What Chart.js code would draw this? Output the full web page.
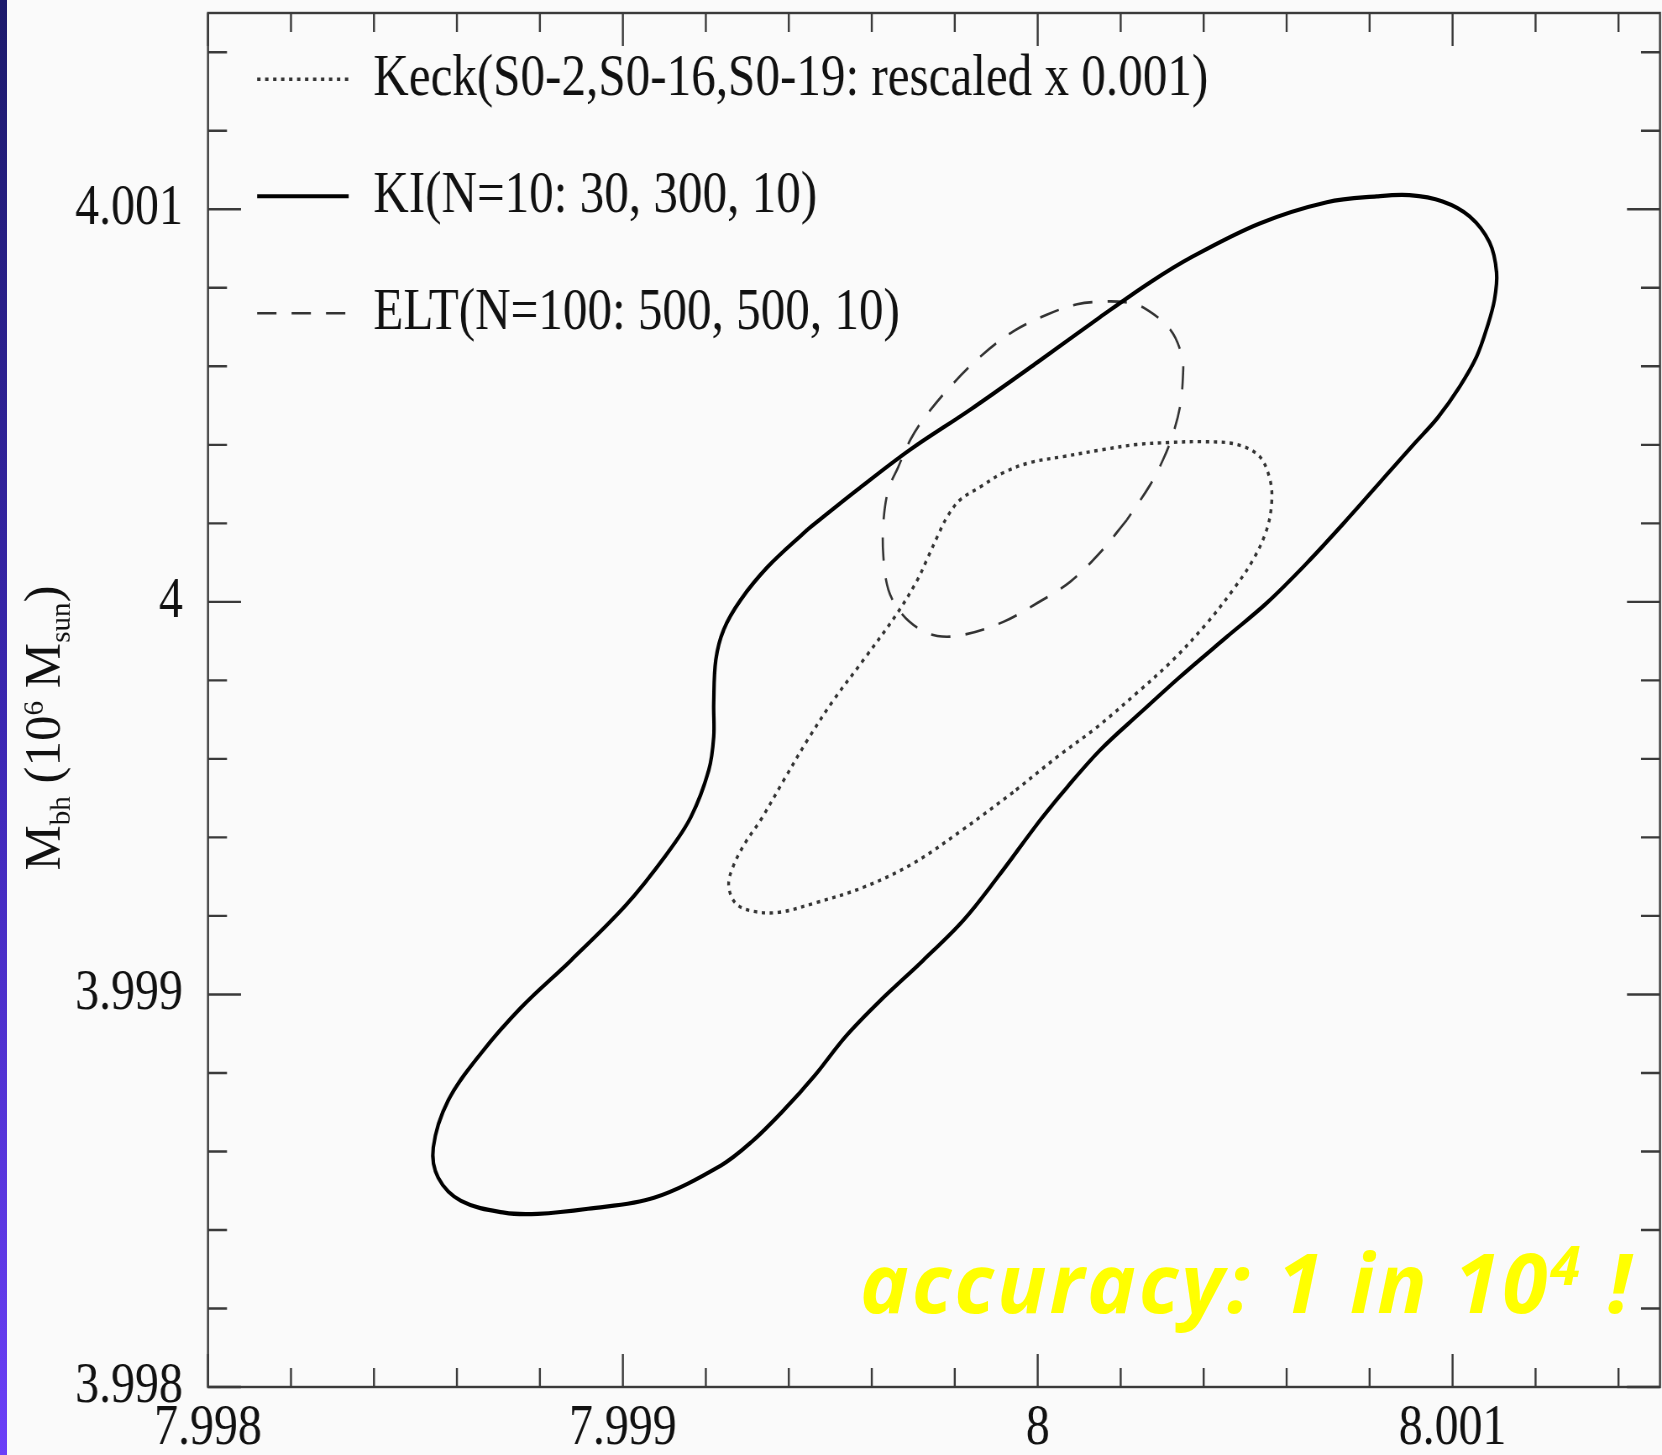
<!DOCTYPE html>
<html>
<head>
<meta charset="utf-8">
<title>Mbh confidence contours</title>
<script src="https://cdn.jsdelivr.net/npm/chart.js@4.4.1/dist/chart.umd.min.js"></script>
<style>
  html, body { margin: 0; padding: 0; overflow: hidden; background: #fafafa; }
  body { width: 1662px; height: 1455px; position: relative; }
  /* the original figure is squeezed horizontally, so the chart is drawn wider and squeezed back */
  #wrap { position: absolute; left: 0; top: 0; width: 1979px; height: 1455px; transform: scaleX(0.83982); transform-origin: 0 0; }
  #strip { position: absolute; left: 0; top: 0; width: 7px; height: 1455px; background: linear-gradient(to bottom, #1c1a6b, #3b26b2 50%, #6b3ff8); }
  #note { position: absolute; left: 860px; top: 1240px; font: italic 700 82px "Open Sans"; line-height: 82px; letter-spacing: 3px; color: #ffff00; white-space: nowrap; }
  #note sup { font-size: 54px; vertical-align: baseline; position: relative; top: -28px; }
</style>
</head>
<body>
<div id="wrap"><canvas id="contours"></canvas></div>
<div id="strip"></div>
<div id="note">accuracy: 1 in 10<sup>4</sup> !</div>

<script>
const SQUISH = 1662 / 1979;

// --- axis ticks ---
const xTicks = [7.998, 7.9982, 7.9984, 7.9986, 7.9988, 7.999, 7.9992, 7.9994, 7.9996, 7.9998,
                8, 8.0002, 8.0004, 8.0006, 8.0008, 8.001, 8.0012, 8.0014];
const yTicks = [3.998, 3.9982, 3.9984, 3.9986, 3.9988, 3.999, 3.9992, 3.9994, 3.9996, 3.9998,
                4, 4.0002, 4.0004, 4.0006, 4.0008, 4.001, 4.0012, 4.0014];
const xMajor = [7.998, 7.999, 8, 8.001];
const xLabels = ['7.998', '7.999', '8', '8.001'];
const yMajor = [3.998, 3.999, 4, 4.001];
const yLabels = ['3.998', '3.999', '4', '4.001'];

const seriesNames = ['Keck(S0-2,S0-16,S0-19: rescaled x 0.001)', 'KI(N=10: 30, 300, 10)', 'ELT(N=100: 500, 500, 10)'];

// --- Keck contour (dotted) ---
const keckX = [7.999941, 7.999821, 7.999700, 7.999580, 7.999460, 7.999375, 7.999313, 7.999272, 7.999255, 7.999267,
               7.999296, 7.999332, 7.999388, 7.999445, 7.999508, 7.999580, 7.999662, 7.999710, 7.999736, 7.999758,
               7.999782, 7.999813, 7.999862, 7.999917, 7.999982, 8.000061, 8.000158, 8.000239, 8.000319, 8.000398,
               8.000480, 8.000535, 8.000560, 8.000564, 8.000552, 8.000519, 8.000471, 8.000408, 8.000326, 8.000239,
               8.000143, 8.000047];
const keckY = [3.999515, 3.999421, 3.999334, 3.999273, 3.999232, 3.999209, 3.999212, 3.999232, 3.999278, 3.999329,
               3.999388, 3.999444, 3.999546, 3.999648, 3.999750, 3.999852, 3.999972, 4.000056, 4.000115, 4.000166,
               4.000217, 4.000260, 4.000293, 4.000329, 4.000355, 4.000370, 4.000388, 4.000401, 4.000406, 4.000408,
               4.000401, 4.000370, 4.000311, 4.000253, 4.000184, 4.000107, 4.000031, 3.999946, 3.999852, 3.999768,
               3.999681, 3.999605];

// --- KI contour (solid) ---
const kiX = [7.999445, 7.999566, 7.999693, 7.999838, 7.999999, 8.000150, 8.000271, 8.000374, 8.000535, 8.000697,
             8.000817, 8.000896, 8.000976, 8.001041, 8.001089, 8.001106, 8.001101, 8.001084, 8.001058, 8.001017,
             8.000964, 8.000906, 8.000848, 8.000745, 8.000649, 8.000552, 8.000456, 8.000343, 8.000247, 8.000150,
             8.000071, 8.000006, 7.999903, 7.999821, 7.999724, 7.999621, 7.999537, 7.999462, 7.999385, 7.999311,
             7.999236, 7.999075, 7.998916, 7.998795, 7.998714, 7.998610, 7.998555, 7.998543, 7.998579, 7.998658,
             7.998755, 7.998875, 7.999007, 7.999104, 7.999164, 7.999207, 7.999219, 7.999219, 7.999224, 7.999243,
             7.999284, 7.999349];
const kiY = [4.000184, 4.000286, 4.000388, 4.000490, 4.000610, 4.000725, 4.000814, 4.000880, 4.000964, 4.001018,
             4.001033, 4.001036, 4.001020, 4.000982, 4.000916, 4.000839, 4.000770, 4.000702, 4.000625, 4.000548,
             4.000469, 4.000401, 4.000332, 4.000209, 4.000099, 3.999997, 3.999911, 3.999809, 3.999717, 3.999622,
             3.999528, 3.999444, 3.999298, 3.999189, 3.999087, 3.998985, 3.998893, 3.998793, 3.998702, 3.998625,
             3.998564, 3.998482, 3.998454, 3.998441, 3.998444, 3.998474, 3.998533, 3.998610, 3.998730, 3.998850,
             3.998967, 3.999087, 3.999227, 3.999355, 3.999452, 3.999571, 3.999656, 3.999742, 3.999852, 3.999929,
             4.000005, 4.000089];

// --- ELT contour (dashed) ---
const eltX = [8.000215, 8.000150, 8.000078, 7.999999, 7.999917, 7.999821, 7.999758, 7.999710, 7.999669, 7.999640,
              7.999628, 7.999628, 7.999640, 7.999664, 7.999693, 7.999729, 7.999789, 7.999862, 7.999941, 8.000023,
              8.000095, 8.000158, 8.000211, 8.000254, 8.000319, 8.000348, 8.000350, 8.000343, 8.000324, 8.000302,
              8.000271];
const eltY = [4.000209, 4.000125, 4.000051, 3.999997, 3.999949, 3.999916, 3.999913, 3.999934, 3.999974, 4.000031,
              4.000115, 4.000202, 4.000286, 4.000344, 4.000413, 4.000472, 4.000548, 4.000625, 4.000689, 4.000732,
              4.000758, 4.000765, 4.000763, 4.000750, 4.000694, 4.000625, 4.000574, 4.000497, 4.000421, 4.000362,
              4.000298];

// closed loop: repeat the first point at the end
function loop(xs, ys) {
    const pts = xs.map((x, i) => ({ x: x, y: ys[i] }));
    pts.push(pts[0]);
    return pts;
}

function isMajor(v, majors) {
    return majors.some(m => Math.abs(m - v) < 1e-7);
}

function labelFor(v, majors, labels) {
    const i = majors.findIndex(m => Math.abs(m - v) < 1e-7);
    return i >= 0 ? labels[i] : '';
}

const serif = 'Liberation Serif';

// frame + inward major/minor ticks on all four sides
const frameTicks = {
    id: 'frameTicks',
    afterDatasetsDraw(chart) {
        const { ctx, chartArea: a, scales: { x, y } } = chart;
        ctx.save();
        ctx.strokeStyle = '#3a3a3a';
        ctx.lineWidth = 2.4;
        ctx.strokeRect(a.left, a.top, a.right - a.left, a.bottom - a.top);
        ctx.beginPath();
        xTicks.forEach(v => {
            const px = x.getPixelForValue(v);
            const len = isMajor(v, xMajor) ? 33 : 19;
            ctx.moveTo(px, a.bottom); ctx.lineTo(px, a.bottom - len);
            ctx.moveTo(px, a.top); ctx.lineTo(px, a.top + len);
        });
        yTicks.forEach(v => {
            const py = y.getPixelForValue(v);
            const len = (isMajor(v, yMajor) ? 33 : 19) / SQUISH;
            ctx.moveTo(a.left, py); ctx.lineTo(a.left + len, py);
            ctx.moveTo(a.right, py); ctx.lineTo(a.right - len, py);
        });
        ctx.stroke();
        ctx.restore();
    }
};

// y title with sub/superscripts, drawn rotated
const yTitleParts = [
    { t: 'M', k: 'n' }, { t: 'bh', k: 'sub' }, { t: ' (10', k: 'n' }, { t: '6', k: 'sup' },
    { t: ' M', k: 'n' }, { t: 'sun', k: 'sub' }, { t: ')', k: 'n' }
];
const yTitle = {
    id: 'yTitle',
    afterDraw(chart) {
        const ctx = chart.ctx;
        const fontOf = k => (k === 'n' ? 51 : 29) + 'px "' + serif + '"';
        ctx.save();
        ctx.translate(60 / SQUISH, 728);
        ctx.rotate(-Math.PI / 2);
        ctx.scale(1, 1 / SQUISH);
        ctx.fillStyle = '#111';
        ctx.textBaseline = 'alphabetic';
        ctx.textAlign = 'left';
        let total = 0;
        yTitleParts.forEach(p => { ctx.font = fontOf(p.k); total += ctx.measureText(p.t).width; });
        let pos = -total / 2;
        yTitleParts.forEach(p => {
            ctx.font = fontOf(p.k);
            const dy = p.k === 'sub' ? 10 : (p.k === 'sup' ? -17 : 0);
            ctx.fillText(p.t, pos, dy);
            pos += ctx.measureText(p.t).width;
        });
        ctx.restore();
    }
};

// legend sits inside the plot, a little higher than chartArea.top + padding
const legendNudge = {
    id: 'legendNudge',
    afterLayout(chart) {
        const l = chart.legend;
        if (l) { l.top -= 8.5; l.bottom -= 8.5; }
    }
};

const ctx = document.getElementById('contours').getContext('2d');
new Chart(ctx, {
    type: 'scatter',
    data: {
        datasets: [
            { label: seriesNames[0], data: loop(keckX, keckY), showLine: true, borderColor: '#333', borderWidth: 3.4,
              borderDash: [4, 5.5], pointRadius: 0, tension: 0.35, fill: false },
            { label: seriesNames[1], data: loop(kiX, kiY), showLine: true, borderColor: '#000', borderWidth: 4.2,
              pointRadius: 0, tension: 0.35, fill: false },
            { label: seriesNames[2], data: loop(eltX, eltY), showLine: true, borderColor: '#333', borderWidth: 2.6,
              borderDash: [23, 18], pointRadius: 0, tension: 0.35, fill: false }
        ]
    },
    options: {
        responsive: true,
        maintainAspectRatio: false,
        animation: false,
        events: [],
        layout: { padding: { top: 13, right: 2.4, left: 0, bottom: 0 } },
        plugins: {
            tooltip: { enabled: false },
            legend: {
                position: 'chartArea',
                align: 'start',
                labels: {
                    usePointStyle: true,
                    pointStyle: 'line',
                    pointStyleWidth: 109,
                    padding: 58.5,
                    color: '#111',
                    font: { family: serif, size: 58.5 },
                    generateLabels: chart => chart.data.datasets.map((ds, i) => ({
                        text: ds.label,
                        strokeStyle: ds.borderColor,
                        fillStyle: 'rgba(0,0,0,0)',
                        lineWidth: ds.borderWidth,
                        lineDash: ds.borderDash || [],
                        pointStyle: 'line',
                        fontColor: '#111',
                        datasetIndex: i
                    }))
                }
            }
        },
        scales: {
            x: {
                type: 'linear',
                min: 7.998,
                max: 8.0015,
                bounds: 'data',
                grid: { display: false, drawTicks: false },
                border: { display: false },
                afterBuildTicks: s => { s.ticks = xTicks.map(v => ({ value: v })); },
                afterFit: s => { s.height = 68; s.paddingLeft = 0; s.paddingRight = 0; },
                ticks: {
                    autoSkip: false, maxRotation: 0, minRotation: 0, padding: 8,
                    color: '#111', font: { family: serif, size: 57 },
                    callback: v => labelFor(v, xMajor, xLabels)
                }
            },
            y: {
                type: 'linear',
                min: 3.998,
                max: 4.0015,
                bounds: 'data',
                grid: { display: false, drawTicks: false },
                border: { display: false },
                afterBuildTicks: s => { s.ticks = yTicks.map(v => ({ value: v })); },
                afterFit: s => { s.width = 208 / SQUISH; s.paddingTop = 0; s.paddingBottom = 0; },
                ticks: {
                    autoSkip: false, padding: 30,
                    color: '#111', font: { family: serif, size: 57 },
                    callback: v => labelFor(v, yMajor, yLabels)
                }
            }
        }
    },
    plugins: [frameTicks, yTitle, legendNudge]
});
</script>
</body>
</html>
